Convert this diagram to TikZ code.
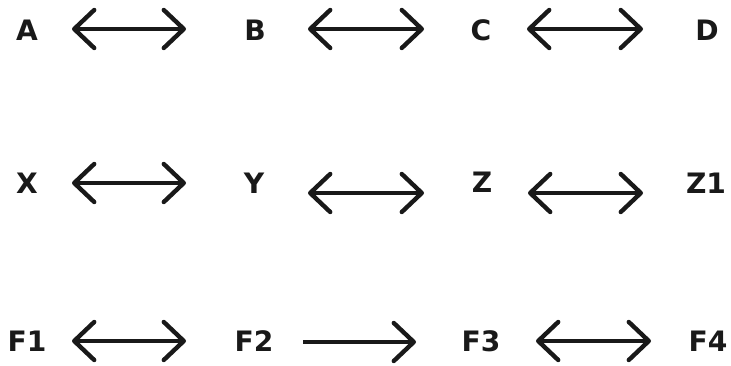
\documentclass[tikz,border=0pt]{standalone}
\usepackage{fontspec}
\setmainfont{DejaVu Sans}
\usetikzlibrary{arrows.meta}

\tikzset{
  lbl/.style={font=\bfseries\fontsize{20}{22}\selectfont, inner sep=0pt, text=black!90},
  rel/.style={line width=0.11cm, draw=black!90, {Straight Barb[length=5mm,width=9.5mm,round]}-{Straight Barb[length=5mm,width=9.5mm,round]}},
  relr/.style={line width=0.11cm, draw=black!90, -{Straight Barb[length=5mm,width=9.5mm,round]}}
}

\begin{document}
\begin{tikzpicture}[x=0.025cm,y=-0.025cm]
                \useasboundingbox (0,0) rectangle (731,366);

                \node (a) at (27,30) [lbl] {A};
                \node (b) at (255,30) [lbl] {B};
                \node (c) at (481,30) [lbl] {C};
                \node (d) at (707,30) [lbl] {D};

                \node (x) at (27,183) [lbl] {X};
                \node (y) at (254,183) [lbl] {Y};
                \node (z) at (482,182) [lbl] {Z};
                \node (z1) at (706,183) [lbl] {Z1};

                \node (f1) at (27,341) [lbl] {F1};
                \node (f2) at (254,341) [lbl] {F2};
                \node (f3) at (481,341) [lbl] {F3};
                \node (f4) at (708,341) [lbl] {F4};

                \coordinate (ab1) at (72,29);
                \coordinate (ab2) at (186,29);
                \coordinate (bc1) at (308,29);
                \coordinate (bc2) at (424,29);
                \coordinate (cd1) at (527,29);
                \coordinate (cd2) at (643,29);

                \coordinate (xy1) at (72,183);
                \coordinate (xy2) at (186,183);
                \coordinate (yz1) at (308,193);
                \coordinate (yz2) at (424,193);
                \coordinate (zz1) at (528,193);
                \coordinate (zz2) at (643,193);

                \coordinate (ff1) at (72,341);
                \coordinate (ff2) at (186,341);
                \coordinate (fg1) at (303,342);
                \coordinate (fg2) at (416,342);
                \coordinate (fh1) at (536,341);
                \coordinate (fh2) at (651,341);

                \draw[rel] (ab1) -- (ab2);
                \draw[rel] (bc1) -- (bc2);
                \draw[rel] (cd1) -- (cd2);
                \draw[rel] (xy1) -- (xy2);
                \draw[rel] (yz1) -- (yz2);
                \draw[rel] (zz1) -- (zz2);
                \draw[rel] (ff1) -- (ff2);
                \draw[relr] (fg1) -- (fg2);
                \draw[rel] (fh1) -- (fh2);
            \end{tikzpicture}
\end{document}
